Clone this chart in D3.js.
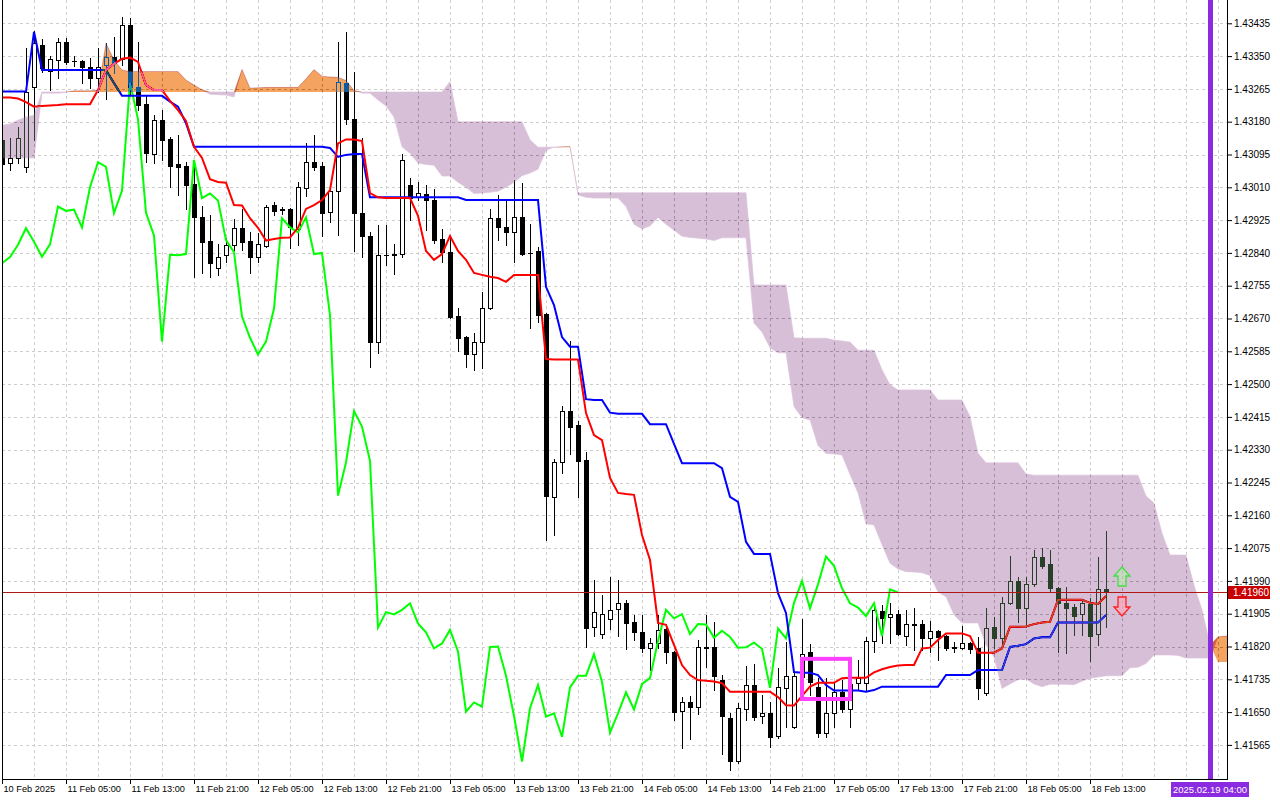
<!DOCTYPE html>
<html>
<head>
<meta charset="utf-8">
<script src="https://cdn.jsdelivr.net/npm/d3@7"></script>
<style>
  body { margin: 0; background: #fff; }
  svg { display: block; font-family: "Liberation Sans", Arial, sans-serif; }
</style>
</head>
<body>
<div id="chart"></div>
<script>
// H1 candles, first bar = 10 Feb 21:00
const opens = [
  1.43133,1.43072,1.43087,1.43062,1.43271,1.43379,1.43311,1.43340,1.43387,1.43338,
  1.43338,1.43321,1.43293,1.43327,1.43348,1.43343,1.43431,1.43271,1.43226,1.43096,
  1.43184,1.43134,1.43070,1.43065,1.43019,1.42932,1.42871,1.42800,1.42835,1.42861,
  1.42904,1.42871,1.42830,1.42859,1.42964,1.42953,1.42954,1.42902,1.43007,1.43075,
  1.43065,1.42945,1.43001,1.43280,1.43187,1.42944,1.42884,1.42610,1.42835,1.42836,
  1.42836,1.43016,1.42984,1.42992,1.42977,1.42876,1.42842,1.42677,1.42621,1.42577,
  1.42610,1.42696,1.42930,1.42906,1.42893,1.42932,1.42841,1.42846,1.42682,1.42208,
  1.42299,1.42430,1.42393,1.42303,1.41870,1.41852,1.41890,1.41916,1.41932,1.41883,
  1.41857,1.41815,1.41828,1.41865,1.41807,1.41654,1.41675,1.41664,1.41819,1.41819,
  1.41733,1.41634,1.41522,1.41657,1.41720,1.41640,1.41648,1.41588,1.41712,1.41612,
  1.41742,1.41805,1.41716,1.41597,1.41647,1.41701,1.41657,1.41726,1.41726,1.41834,
  1.41912,1.41897,1.41904,1.41848,1.41878,1.41878,1.41843,1.41861,1.41848,1.41818,
  1.41817,1.41830,1.41815,1.41699,1.41870,1.41841,1.41933,1.41990,1.41919,1.41981,
  1.42051,1.42034,1.41972,1.41933,1.41922,1.41903,1.41929,1.41852,1.41969
];
const highs = [
  1.43153,1.43137,1.43167,1.43370,1.43415,1.43394,1.43349,1.43396,1.43397,1.43349,
  1.43340,1.43344,1.43371,1.43384,1.43400,1.43452,1.43448,1.43387,1.43249,1.43197,
  1.43210,1.43141,1.43146,1.43076,1.43081,1.42962,1.42938,1.42863,1.42879,1.42928,
  1.42954,1.42895,1.42891,1.42964,1.42973,1.42960,1.42956,1.43023,1.43124,1.43146,
  1.43076,1.43012,1.43387,1.43413,1.43310,1.43137,1.42895,1.42912,1.42912,1.42862,
  1.43096,1.43033,1.43025,1.43016,1.43005,1.42902,1.42884,1.42696,1.42625,1.42633,
  1.42738,1.42953,1.42990,1.42979,1.43029,1.43020,1.42915,1.42856,1.42684,1.42306,
  1.42443,1.42612,1.42405,1.42325,1.41992,1.41953,1.42001,1.41992,1.41941,1.41902,
  1.41902,1.41843,1.41902,1.41876,1.41808,1.41690,1.41692,1.41837,1.41902,1.41884,
  1.41746,1.41647,1.41673,1.41770,1.41775,1.41694,1.41675,1.41764,1.41832,1.41754,
  1.41891,1.41826,1.41738,1.41739,1.41725,1.41733,1.41725,1.41785,1.41845,1.41928,
  1.41928,1.41932,1.41915,1.41915,1.41919,1.41889,1.41887,1.41863,1.41850,1.41832,
  1.41873,1.41832,1.41844,1.41919,1.41897,1.41949,1.42055,1.42001,1.42001,1.42070,
  1.42074,1.42070,1.41975,1.41973,1.41930,1.41942,1.41945,1.42053,1.42119
];
const lows = [
  1.43055,1.43055,1.43072,1.43049,1.43133,1.43310,1.43262,1.43293,1.43330,1.43324,
  1.43281,1.43267,1.43258,1.43239,1.43306,1.43327,1.43249,1.43210,1.43076,1.43074,
  1.43081,1.43012,1.42990,1.42954,1.42778,1.42789,1.42778,1.42783,1.42816,1.42848,
  1.42848,1.42787,1.42817,1.42855,1.42938,1.42941,1.42853,1.42861,1.42988,1.43055,
  1.42884,1.42921,1.42886,1.43174,1.42846,1.42830,1.42545,1.42580,1.42809,1.42785,
  1.42829,1.42925,1.42977,1.42899,1.42865,1.42816,1.42671,1.42587,1.42545,1.42537,
  1.42543,1.42695,1.42873,1.42861,1.42817,1.42835,1.42646,1.42662,1.42096,1.42109,
  1.42269,1.42318,1.42208,1.41819,1.41848,1.41841,1.41865,1.41848,1.41813,1.41837,
  1.41807,1.41759,1.41816,1.41778,1.41630,1.41556,1.41580,1.41644,1.41766,1.41707,
  1.41542,1.41500,1.41517,1.41630,1.41630,1.41621,1.41559,1.41584,1.41612,1.41609,
  1.41733,1.41694,1.41585,1.41586,1.41612,1.41650,1.41612,1.41707,1.41706,1.41807,
  1.41828,1.41828,1.41850,1.41824,1.41811,1.41811,1.41807,1.41785,1.41811,1.41807,
  1.41813,1.41802,1.41683,1.41694,1.41815,1.41824,1.41930,1.41884,1.41871,1.41977,
  1.42023,1.41961,1.41807,1.41802,1.41850,1.41850,1.41783,1.41824,1.41871
];
const closes = [
  1.43070,1.43087,1.43137,1.43258,1.43383,1.43319,1.43343,1.43387,1.43336,1.43337,
  1.43321,1.43293,1.43322,1.43348,1.43332,1.43431,1.43271,1.43223,1.43100,1.43184,
  1.43133,1.43066,1.43063,1.43016,1.42932,1.42869,1.42813,1.42829,1.42861,1.42904,
  1.42869,1.42830,1.42862,1.42960,1.42949,1.42952,1.42906,1.43010,1.43075,1.43063,
  1.42943,1.43001,1.43282,1.43186,1.42944,1.42885,1.42610,1.42835,1.42834,1.42837,
  1.43081,1.42982,1.42994,1.42976,1.42873,1.42842,1.42675,1.42620,1.42577,1.42610,
  1.42696,1.42930,1.42906,1.42893,1.42932,1.42837,1.42840,1.42679,1.42211,1.42297,
  1.42430,1.42390,1.42301,1.41869,1.41909,1.41903,1.41915,1.41932,1.41880,1.41857,
  1.41815,1.41828,1.41863,1.41807,1.41651,1.41675,1.41664,1.41819,1.41820,1.41744,
  1.41640,1.41522,1.41660,1.41720,1.41638,1.41647,1.41586,1.41714,1.41744,1.41744,
  1.41800,1.41728,1.41597,1.41647,1.41701,1.41657,1.41723,1.41738,1.41834,1.41915,
  1.41893,1.41904,1.41852,1.41878,1.41877,1.41843,1.41861,1.41845,1.41817,1.41818,
  1.41830,1.41814,1.41713,1.41867,1.41841,1.41933,1.41990,1.41919,1.41981,1.42053,
  1.42029,1.41971,1.41932,1.41921,1.41899,1.41932,1.41847,1.41968,1.41960
];

// Ichimoku lines
const tenkan = [
  1.43243,1.43243,1.43240,1.43231,1.43219,1.43221,1.43222,1.43223,1.43225,1.43225,
  1.43225,1.43225,1.43262,1.43314,1.43330,1.43343,1.43346,1.43335,1.43275,1.43262,
  1.43262,1.43234,1.43210,1.43182,1.43115,1.43086,1.43031,1.43024,1.43022,1.42964,
  1.42963,1.42930,1.42905,1.42872,1.42876,1.42879,1.42880,1.42905,1.42954,1.42964,
  1.42977,1.43003,1.43124,1.43134,1.43134,1.43130,1.42995,1.42984,1.42982,1.42982,
  1.42982,1.42982,1.42936,1.42845,1.42822,1.42837,1.42884,1.42845,1.42822,1.42788,
  1.42783,1.42778,1.42775,1.42765,1.42783,1.42783,1.42783,1.42783,1.42565,1.42564,
  1.42564,1.42564,1.42564,1.42425,1.42368,1.42355,1.42257,1.42218,1.42215,1.42213,
  1.42109,1.42044,1.41881,1.41876,1.41824,1.41772,1.41746,1.41733,1.41731,1.41729,
  1.41725,1.41703,1.41703,1.41703,1.41703,1.41703,1.41703,1.41689,1.41668,1.41667,
  1.41692,1.41716,1.41726,1.41726,1.41726,1.41738,1.41739,1.41739,1.41739,1.41753,
  1.41761,1.41767,1.41771,1.41772,1.41772,1.41815,1.41817,1.41837,1.41854,1.41854,
  1.41854,1.41847,1.41804,1.41804,1.41804,1.41815,1.41871,1.41871,1.41872,1.41878,
  1.41882,1.41884,1.41941,1.41941,1.41941,1.41941,1.41933,1.41930,1.41951
];
const kijun = [
  1.43258,1.43258,1.43258,1.43258,1.43413,1.43314,1.43314,1.43314,1.43314,1.43314,
  1.43314,1.43314,1.43314,1.43314,1.43280,1.43247,1.43247,1.43247,1.43247,1.43247,
  1.43247,1.43232,1.43219,1.43176,1.43115,1.43115,1.43115,1.43115,1.43115,1.43115,
  1.43115,1.43115,1.43115,1.43115,1.43115,1.43115,1.43115,1.43115,1.43115,1.43115,
  1.43115,1.43112,1.43089,1.43094,1.43096,1.43096,1.42984,1.42984,1.42984,1.42984,
  1.42984,1.42984,1.42984,1.42984,1.42984,1.42984,1.42984,1.42984,1.42977,1.42977,
  1.42977,1.42977,1.42977,1.42977,1.42977,1.42977,1.42977,1.42977,1.42752,1.42705,
  1.42622,1.42597,1.42597,1.42461,1.42459,1.42459,1.42426,1.42423,1.42423,1.42423,
  1.42423,1.42396,1.42396,1.42396,1.42345,1.42295,1.42295,1.42295,1.42295,1.42295,
  1.42282,1.42208,1.42195,1.42091,1.42060,1.42060,1.42060,1.41958,1.41907,1.41754,
  1.41752,1.41752,1.41746,1.41720,1.41706,1.41706,1.41706,1.41706,1.41703,1.41707,
  1.41716,1.41716,1.41716,1.41716,1.41716,1.41716,1.41716,1.41716,1.41746,1.41746,
  1.41746,1.41746,1.41759,1.41759,1.41759,1.41759,1.41819,1.41822,1.41826,1.41841,
  1.41844,1.41844,1.41882,1.41882,1.41882,1.41882,1.41882,1.41882,1.41902
];
// senkou spans as plotted (already shifted 26 bars ahead)
const senkouA = [
  1.43086,1.43086,1.43086,1.43086,1.43086,1.43254,1.43254,1.43254,1.43256,1.43260,
  1.43260,1.43260,1.43262,1.43383,1.43340,1.43314,1.43310,1.43310,1.43310,1.43310,
  1.43310,1.43310,1.43310,1.43288,1.43275,1.43263,1.43251,1.43250,1.43249,1.43244,
  1.43316,1.43267,1.43268,1.43269,1.43269,1.43269,1.43269,1.43269,1.43291,1.43315,
  1.43298,1.43296,1.43295,1.43287,1.43261,1.43254,1.43254,1.43236,1.43221,1.43192,
  1.43115,1.43098,1.43073,1.43069,1.43067,1.43039,1.43039,1.43023,1.43010,1.42994,
  1.42995,1.42997,1.43000,1.43010,1.43023,1.43040,1.43047,1.43057,1.43106,1.43114,
  1.43115,1.43116,1.42990,1.42984,1.42982,1.42982,1.42982,1.42982,1.42960,1.42914,
  1.42902,1.42910,1.42932,1.42914,1.42899,1.42883,1.42880,1.42878,1.42876,1.42872,
  1.42879,1.42879,1.42879,1.42879,1.42658,1.42635,1.42594,1.42581,1.42581,1.42442,
  1.42413,1.42407,1.42341,1.42320,1.42319,1.42316,1.42266,1.42218,1.42138,1.42135,
  1.42084,1.42036,1.42021,1.42014,1.42013,1.42011,1.42004,1.41961,1.41949,1.41902,
  1.41881,1.41881,1.41881,1.41824,1.41793,1.41711,1.41723,1.41734,1.41736,1.41723,
  1.41716,1.41722,1.41722,1.41722,1.41721,1.41730,1.41738,1.41741,1.41744,1.41744,
  1.41744,1.41765,1.41766,1.41776,1.41798,1.41798,1.41798,1.41797,1.41790,1.41790,
  1.41790,1.41790,1.41845,1.41847,1.41849
];
const senkouB = [
  1.43171,1.43174,1.43184,1.43192,1.43197,1.43257,1.43257,1.43257,1.43257,1.43257,
  1.43257,1.43257,1.43257,1.43257,1.43257,1.43257,1.43257,1.43257,1.43257,1.43257,
  1.43257,1.43257,1.43257,1.43257,1.43257,1.43257,1.43257,1.43257,1.43257,1.43257,
  1.43257,1.43257,1.43257,1.43257,1.43257,1.43257,1.43257,1.43257,1.43257,1.43257,
  1.43257,1.43257,1.43257,1.43257,1.43257,1.43257,1.43257,1.43257,1.43257,1.43257,
  1.43257,1.43257,1.43257,1.43257,1.43257,1.43257,1.43284,1.43180,1.43180,1.43180,
  1.43180,1.43180,1.43180,1.43180,1.43180,1.43180,1.43133,1.43114,1.43114,1.43114,
  1.43114,1.43114,1.42995,1.42996,1.42996,1.42996,1.42996,1.42996,1.42996,1.42996,
  1.42996,1.42996,1.42996,1.42996,1.42996,1.42996,1.42996,1.42996,1.42996,1.42996,
  1.42996,1.42996,1.42996,1.42996,1.42757,1.42757,1.42757,1.42757,1.42757,1.42620,
  1.42619,1.42619,1.42619,1.42619,1.42614,1.42612,1.42609,1.42588,1.42588,1.42588,
  1.42537,1.42498,1.42485,1.42485,1.42485,1.42485,1.42485,1.42459,1.42459,1.42459,
  1.42459,1.42416,1.42321,1.42296,1.42296,1.42296,1.42296,1.42296,1.42267,1.42264,
  1.42264,1.42264,1.42264,1.42264,1.42264,1.42264,1.42264,1.42264,1.42264,1.42264,
  1.42264,1.42264,1.42264,1.42210,1.42192,1.42114,1.42057,1.42057,1.42057,1.41979,
  1.41915,1.41824,1.41780,1.41780,1.41780
];

const dateLabels = ["10 Feb 2025", "11 Feb 05:00", "11 Feb 13:00", "11 Feb 21:00", "12 Feb 05:00",
  "12 Feb 13:00", "12 Feb 21:00", "13 Feb 05:00", "13 Feb 13:00", "13 Feb 21:00", "14 Feb 05:00",
  "14 Feb 13:00", "14 Feb 21:00", "17 Feb 05:00", "17 Feb 13:00", "17 Feb 21:00", "18 Feb 05:00",
  "18 Feb 13:00"];
const priceTicks = [1.43435, 1.43350, 1.43265, 1.43180, 1.43095, 1.43010, 1.42925, 1.42840,
  1.42755, 1.42670, 1.42585, 1.42500, 1.42415, 1.42330, 1.42245, 1.42160, 1.42075, 1.41990,
  1.41905, 1.41820, 1.41735, 1.41650, 1.41565];

const lastPrice = 1.41960;
const markerBar = 151, markerLabel = "2025.02.19 04:00";
const boxBars = [100, 106], boxPrices = [1.41788, 1.41684];
const arrowBar = 140, arrowUpTip = 1.42026, arrowDownTip = 1.41899;

const W = 1280, H = 800;
const left = 2, right = 1227, bottom = 779;

const x = d3.scaleLinear().domain([0, 153.125]).range([left, right]);
const y = d3.scaleLinear().domain([1.41565, 1.43435]).range([744.9, 23.3]);
const ry = v => Math.round(y(v));

const svg = d3.select("#chart").append("svg")
  .attr("width", W).attr("height", H);

svg.append("rect").attr("width", W).attr("height", H).attr("fill", "#fff");

svg.append("defs").append("clipPath").attr("id", "plotclip")
  .append("rect").attr("x", left + 1).attr("y", 0)
  .attr("width", right - left - 1).attr("height", bottom);

const plot = svg.append("g").attr("clip-path", "url(#plotclip)");
plot.append("rect").attr("x", 0).attr("y", 0).attr("width", W).attr("height", H).attr("fill", "#fff");

// grid
const grid = plot.append("g")
  .attr("stroke", "#cdcdcd").attr("stroke-dasharray", "3,3").attr("shape-rendering", "crispEdges");
grid.selectAll("line.h").data(priceTicks).join("line").attr("class", "h")
  .attr("x1", left).attr("x2", right)
  .attr("y1", d => ry(d) + 0.5).attr("y2", d => ry(d) + 0.5);
grid.selectAll("line.v").data(d3.range(4, 153, 4)).join("line").attr("class", "v")
  .attr("x1", d => x(d) + 0.5).attr("x2", d => x(d) + 0.5)
  .attr("y1", 0).attr("y2", bottom);

// candles
const bars = opens.map((o, i) => ({ i, o, h: highs[i], l: lows[i], c: closes[i] }));
const cg = plot.append("g").attr("shape-rendering", "crispEdges");
cg.selectAll("rect.wick").data(bars).join("rect").attr("class", "wick")
  .attr("x", d => x(d.i)).attr("width", 1)
  .attr("y", d => ry(d.h))
  .attr("height", d => ry(d.l) - ry(d.h) + 1)
  .attr("fill", "#000");
cg.selectAll("rect.bear").data(bars.filter(d => d.c < d.o)).join("rect").attr("class", "bear")
  .attr("x", d => x(d.i) - 2).attr("width", 5)
  .attr("y", d => ry(d.o))
  .attr("height", d => Math.max(1, ry(d.c) - ry(d.o) + 1))
  .attr("fill", "#000");
cg.selectAll("rect.bull").data(bars.filter(d => d.c >= d.o)).join("rect").attr("class", "bull")
  .attr("x", d => x(d.i) - 1.5).attr("width", 4)
  .attr("y", d => ry(d.c) + 0.5)
  .attr("height", d => Math.max(1, ry(d.o) - ry(d.c)))
  .attr("fill", "#fff").attr("stroke", "#000").attr("stroke-width", 1);

// lines
const line = d3.line().x(d => x(d.i)).y(d => y(d.v));
const series = arr => arr.map((v, i) => ({ i, v }));
const chikou = closes.map((v, i) => ({ i: i - 26, v })).filter(d => d.i >= 0);

plot.append("path").datum(chikou).attr("d", line)
  .attr("fill", "none").attr("stroke", "#00ff00").attr("stroke-width", 2);
plot.append("path").datum(series(kijun)).attr("d", line)
  .attr("fill", "none").attr("stroke", "#0000ff").attr("stroke-width", 2);
plot.append("path").datum(series(tenkan)).attr("d", line)
  .attr("fill", "none").attr("stroke", "#ff0000").attr("stroke-width", 2);

// kumo, drawn as an inverting overlay like the terminal does
const cloud = senkouA.map((a, i) => ({ i, a, b: senkouB[i] }));
const bearArea = d3.area().x(d => x(d.i)).y0(d => y(d.a)).y1(d => y(Math.max(d.a, d.b)));
const bullArea = d3.area().x(d => x(d.i)).y0(d => y(d.b)).y1(d => y(Math.max(d.a, d.b)));
plot.append("path").datum(cloud).attr("d", bearArea)
  .attr("fill", "rgb(39,64,39)").attr("stroke", "rgb(39,64,39)").attr("stroke-width", 0.6)
  .style("mix-blend-mode", "difference");
plot.append("path").datum(cloud).attr("d", bullArea)
  .attr("fill", "rgb(11,91,159)").style("mix-blend-mode", "difference");

// current price line
plot.append("line")
  .attr("x1", left).attr("x2", right)
  .attr("y1", ry(lastPrice) + 0.5).attr("y2", ry(lastPrice) + 0.5)
  .attr("stroke", "#b01818").attr("stroke-width", 1).attr("shape-rendering", "crispEdges");

// vertical marker
plot.append("rect")
  .attr("x", x(markerBar) - 2).attr("y", 0).attr("width", 5).attr("height", bottom)
  .attr("fill", "#8a2be2");

// highlight box
svg.append("rect")
  .attr("x", x(boxBars[0])).attr("y", y(boxPrices[0]))
  .attr("width", x(boxBars[1]) - x(boxBars[0]))
  .attr("height", y(boxPrices[1]) - y(boxPrices[0]))
  .attr("fill", "none").attr("stroke", "#ff40ff").attr("stroke-width", 4);

// signal arrows
const ax = x(arrowBar);
const upY = y(arrowUpTip), dnY = y(arrowDownTip);
svg.append("path")
  .attr("d", `M${ax},${upY} L${ax + 8},${upY + 9} L${ax + 4},${upY + 9} L${ax + 4},${upY + 19} L${ax - 4},${upY + 19} L${ax - 4},${upY + 9} L${ax - 8},${upY + 9} Z`)
  .attr("fill", "rgba(190,235,180,0.6)").attr("stroke", "#44dd44").attr("stroke-width", 1.3);
svg.append("path")
  .attr("d", `M${ax},${dnY} L${ax + 8},${dnY - 9} L${ax + 4},${dnY - 9} L${ax + 4},${dnY - 19} L${ax - 4},${dnY - 19} L${ax - 4},${dnY - 9} L${ax - 8},${dnY - 9} Z`)
  .attr("fill", "rgba(250,170,190,0.7)").attr("stroke", "#ff2020").attr("stroke-width", 1.3);

// frame
const frame = svg.append("g").attr("stroke", "#000").attr("shape-rendering", "crispEdges");
frame.append("line").attr("x1", left + 0.5).attr("x2", left + 0.5).attr("y1", 0).attr("y2", bottom + 0.5);
frame.append("line").attr("x1", right + 0.5).attr("x2", right + 0.5).attr("y1", 0).attr("y2", bottom + 0.5);
frame.append("line").attr("x1", left).attr("x2", right + 1).attr("y1", bottom + 0.5).attr("y2", bottom + 0.5);

// price axis
const yAxis = svg.append("g").attr("transform", `translate(${right + 1},0)`)
  .call(d3.axisRight(y).tickValues(priceTicks).tickFormat(d3.format(".5f")).tickSize(4).tickPadding(2));
yAxis.select(".domain").remove();
yAxis.selectAll("text").attr("font-family", "Liberation Sans, Arial, sans-serif").attr("font-size", 10).attr("fill", "#000");
yAxis.selectAll("line").attr("stroke", "#000");

// time axis
const xAxis = svg.append("g").attr("transform", `translate(0,${bottom})`)
  .call(d3.axisBottom(x).tickValues(d3.range(0, 137, 8)).tickFormat((d, i) => dateLabels[i]).tickSize(5));
xAxis.select(".domain").remove();
xAxis.selectAll("line").attr("stroke", "#000");
xAxis.selectAll("text")
  .attr("text-anchor", "start").attr("x", 1).attr("y", 13).attr("dy", 0)
  .attr("font-family", "Liberation Sans, Arial, sans-serif").attr("font-size", 9.2).attr("fill", "#000");

// last price tag
const py = ry(lastPrice);
svg.append("rect").attr("x", right + 1).attr("y", py - 6).attr("width", 42).attr("height", 13).attr("fill", "#c80000");
svg.append("text").attr("x", right + 6).attr("y", py + 4)
  .attr("font-size", 10).attr("fill", "#fff").text(d3.format(".5f")(lastPrice));

// marker time tag
svg.append("rect").attr("x", x(markerBar) - 39).attr("y", 782).attr("width", 78).attr("height", 15).attr("fill", "#8a2be2");
svg.append("text").attr("x", x(markerBar)).attr("y", 793).attr("text-anchor", "middle")
  .attr("font-size", 9.5).attr("fill", "#fff").text(markerLabel);
</script>
</body>
</html>
